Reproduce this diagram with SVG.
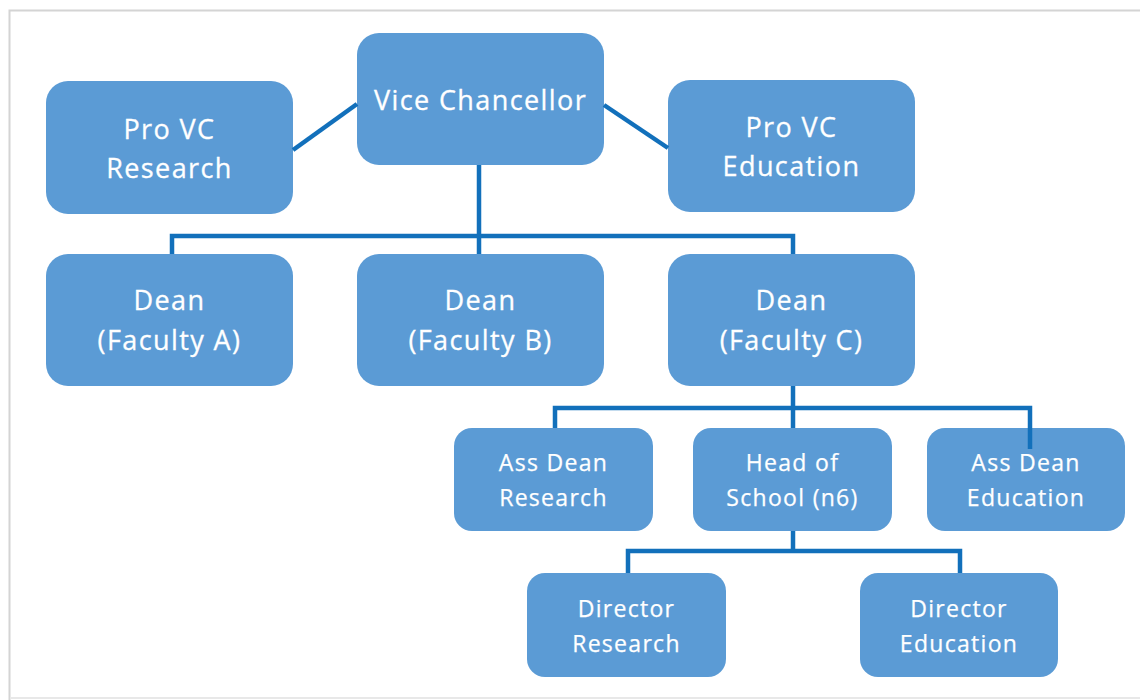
<svg xmlns="http://www.w3.org/2000/svg" width="1140" height="700" viewBox="0 0 1140 700">
<style>
.box{fill:#5b9bd5;}
.t1{font-family:"Open Sans","Liberation Sans",sans-serif;font-size:27px;letter-spacing:1.4px;fill:#ffffff;stroke:#ffffff;stroke-width:0.3;text-anchor:middle;}
.t2{font-family:"Open Sans","Liberation Sans",sans-serif;font-size:23px;letter-spacing:1.3px;fill:#ffffff;stroke:#ffffff;stroke-width:0.25;text-anchor:middle;}
.ln{fill:none;stroke:#1270bb;stroke-width:4.5;stroke-linejoin:miter;stroke-linecap:butt;}
</style>
<rect x="0" y="0" width="1140" height="700" fill="#ffffff"/>
<path d="M9.5,700 V10.5 H1140" fill="none" stroke="#d4d4d4" stroke-width="2"/>
<path d="M11,698 H1140" fill="none" stroke="#e8e8e8" stroke-width="2"/>
<g id="n-provc-research"><rect class="box" x="46" y="81" width="247" height="133" rx="22"/><text class="t1" x="169.5" y="139">Pro VC</text><text class="t1" x="169.5" y="178">Research</text></g>
<g id="n-vc"><rect class="box" x="357" y="33" width="247" height="132" rx="22"/><text class="t1" x="480.5" y="110">Vice Chancellor</text></g>
<g id="n-provc-education"><rect class="box" x="668" y="80" width="247" height="132" rx="22"/><text class="t1" x="791.5" y="137">Pro VC</text><text class="t1" x="791.5" y="176">Education</text></g>
<g id="n-dean-a"><rect class="box" x="46" y="254" width="247" height="132" rx="22"/><text class="t1" x="169.5" y="310">Dean</text><text class="t1" x="169.5" y="350">(Faculty A)</text></g>
<g id="n-dean-b"><rect class="box" x="357" y="254" width="247" height="132" rx="22"/><text class="t1" x="480.5" y="310">Dean</text><text class="t1" x="480.5" y="350">(Faculty B)</text></g>
<g id="n-dean-c"><rect class="box" x="668" y="254" width="247" height="132" rx="22"/><text class="t1" x="791.5" y="310">Dean</text><text class="t1" x="791.5" y="350">(Faculty C)</text></g>
<g id="n-assdean-research"><rect class="box" x="454" y="428" width="199" height="103" rx="18"/><text class="t2" x="553.5" y="471">Ass Dean</text><text class="t2" x="553.5" y="506">Research</text></g>
<g id="n-head-school"><rect class="box" x="693" y="428" width="199" height="103" rx="18"/><text class="t2" x="792.5" y="471">Head of</text><text class="t2" x="792.5" y="506">School (n6)</text></g>
<g id="n-assdean-education"><rect class="box" x="927" y="428" width="198" height="103" rx="18"/><text class="t2" x="1026" y="471">Ass Dean</text><text class="t2" x="1026" y="506">Education</text></g>
<g id="n-director-research"><rect class="box" x="527" y="573" width="199" height="104" rx="18"/><text class="t2" x="626.5" y="617">Director</text><text class="t2" x="626.5" y="652">Research</text></g>
<g id="n-director-education"><rect class="box" x="860" y="573" width="198" height="104" rx="18"/><text class="t2" x="959" y="617">Director</text><text class="t2" x="959" y="652">Education</text></g>
<g id="connectors">
<path class="ln" d="M293,150 L357,104"/>
<path class="ln" d="M604,105 L668,148"/>
<path class="ln" d="M479,165 V236 M172,254 V236 H793 V254 M479,236 V254"/>
<path class="ln" d="M793,386 V408 M555,428 V408 H1030 V449 M793,408 V428"/>
<path class="ln" d="M793,531 V551 M628,573 V551 H960 V573"/>
</g>
</svg>
